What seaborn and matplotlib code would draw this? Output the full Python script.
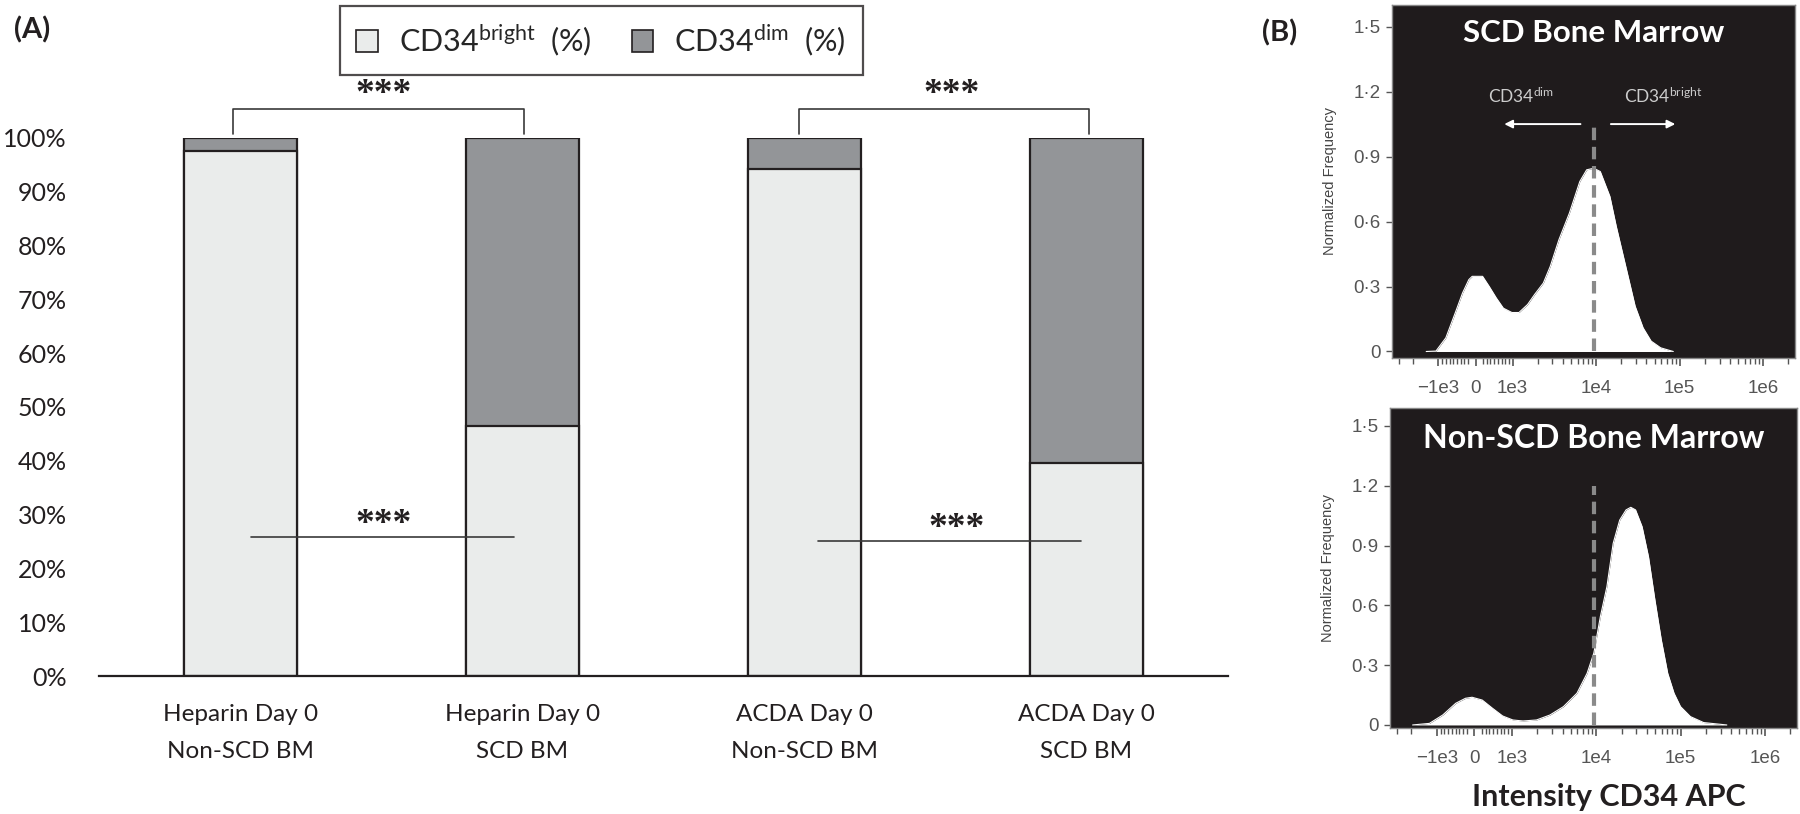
import numpy as np
import pandas as pd
import matplotlib
matplotlib.use('Agg')
import matplotlib.pyplot as plt
import seaborn as sns
from matplotlib.patches import Patch
from matplotlib.ticker import FixedLocator, FixedFormatter, SymmetricalLogLocator, NullFormatter

# ---- panel A data ----
groups = ['Heparin Day 0\nNon-SCD BM', 'Heparin Day 0\nSCD BM',
          'ACDA Day 0\nNon-SCD BM', 'ACDA Day 0\nSCD BM']
bright_pct = [97.6, 46.5, 94.2, 39.6]
dim_pct = [2.4, 53.5, 5.8, 60.4]
pct_ticks = [0, 10, 20, 30, 40, 50, 60, 70, 80, 90, 100]
pct_labels = ['0%', '10%', '20%', '30%', '40%', '50%', '60%', '70%', '80%', '90%', '100%']

# ---- panel B data (histogram outlines) ----
scd_x = [-2230, -1400, -1070, -800, -530, -350, -180, -90, 190, 370, 560, 750, 980,
         1190, 1510, 1830, 2330, 2820, 3580, 4780, 6370, 7700, 9350, 11200, 14600,
         17400, 22600, 29300, 36500, 45500, 59200, 83800, 120000, 363000]
scd_y = [0, 0, 0.002, 0.063, 0.186, 0.27, 0.332, 0.347, 0.347, 0.30, 0.247, 0.20, 0.18,
         0.18, 0.217, 0.263, 0.316, 0.393, 0.516, 0.639, 0.785, 0.839, 0.846, 0.831, 0.716,
         0.578, 0.393, 0.209, 0.109, 0.048, 0.017, 0.0, 0, 0]
nonscd_x = [-1940, -1225, -843, -496, -235, -61, 209, 482, 755, 1028, 1355, 1960, 2830,
            4090, 5910, 7800, 9370, 11200, 13400, 15900, 19000, 22600, 25700, 29300,
            35000, 41700, 49700, 59200, 70500, 83800, 100000, 131000, 188000, 354000]
nonscd_y = [0, 0.008, 0.05, 0.109, 0.134, 0.139, 0.125, 0.084, 0.045, 0.025, 0.02, 0.025,
            0.05, 0.092, 0.159, 0.259, 0.36, 0.543, 0.694, 0.911, 1.028, 1.079, 1.092, 1.079,
            0.995, 0.844, 0.627, 0.426, 0.259, 0.159, 0.092, 0.042, 0.012, 0]
gate = 9300
freq_ticks = [0, 0.3, 0.6, 0.9, 1.2, 1.5]
freq_labels = ['0', '0·3', '0·6', '0·9', '1·2', '1·5']
int_ticks = [-1e3, 0, 1e3, 1e4, 1e5, 1e6]
int_labels = ['\u22121e3', '0', '1e3', '1e4', '1e5', '1e6']

c_bright = '#eaeceb'
c_dim = '#939598'
c_edge = '#231f20'

sns.set_style('white')
plt.rcParams['font.family'] = ['Lato', 'DejaVu Sans']
plt.rcParams['mathtext.fontset'] = 'custom'
plt.rcParams['mathtext.rm'] = 'Lato'
plt.rcParams['mathtext.it'] = 'Lato:italic'
plt.rcParams['mathtext.bf'] = 'Lato:bold'

fig = plt.figure(figsize=(18, 8.14), dpi=100)

# ================= panel A =================
ax = fig.add_axes([0.055, 0.1695, 0.627, 0.661])
df = pd.DataFrame({'group': groups, 'bright': bright_pct, 'dim': dim_pct})
df['total'] = df['bright'] + df['dim']
sns.barplot(data=df, x='group', y='total', color=c_dim, saturation=1, width=0.4,
            edgecolor=c_edge, linewidth=1.6, errorbar=None, ax=ax)
sns.barplot(data=df, x='group', y='bright', color=c_bright, saturation=1, width=0.4,
            edgecolor=c_edge, linewidth=1.6, errorbar=None, ax=ax)
ax.set_xlim(-0.5, 3.5)
ax.set_ylim(0, 100)
ax.set_yticks(pct_ticks)
ax.set_yticklabels(pct_labels, fontsize=18, color='#231f20')
ax.tick_params(axis='y', length=0, pad=23)
ax.set_xticks(range(len(groups)))
ax.set_xticklabels([])
ax.tick_params(axis='x', length=0)
for i, g in enumerate(groups):
    ax.annotate(g, xy=(i, 0), xycoords=('data', 'axes fraction'), xytext=(0, -20),
                textcoords='offset points', ha='center', va='top', fontsize=17.5,
                linespacing=1.95, color='#231f20')
ax.set_xlabel('')
ax.set_ylabel('')
for s in ['top', 'right', 'left']:
    ax.spines[s].set_visible(False)
ax.spines['bottom'].set_linewidth(1.6)
ax.spines['bottom'].set_color(c_edge)

# significance marks
for x0, x1, cx in [(-0.025, 1.007, 0.51), (1.98, 3.01, 2.52)]:
    ax.plot([x0, x0, x1, x1], [100.7, 105.4, 105.4, 100.7], color='#3a3a3a', lw=1.2, clip_on=False)
    ax.text(cx, 104.9, '***', ha='center', va='bottom', fontsize=27, fontweight='bold',
            family='Liberation Serif', color='#231f20', clip_on=False)
for x0, x1, y, cx in [(0.04, 0.97, 25.8, 0.51), (2.05, 2.98, 25.1, 2.54)]:
    ax.plot([x0, x1], [y, y], color='#3a3a3a', lw=1.2)
    ax.text(cx, y - 0.9, '***', ha='center', va='bottom', fontsize=27, fontweight='bold',
            family='Liberation Serif', color='#231f20')

handles = [Patch(facecolor=c_bright, edgecolor=c_edge, linewidth=1.2),
           Patch(facecolor=c_dim, edgecolor=c_edge, linewidth=1.2)]
leg = fig.legend(handles, ['CD34$^{\\mathrm{bright}}$  (%)', 'CD34$^{\\mathrm{dim}}$  (%)'],
                 loc='center', bbox_to_anchor=(0.334, 0.950), ncol=2, fontsize=22,
                 frameon=True, fancybox=False, handlelength=0.7, handleheight=0.7,
                 handletextpad=0.7, columnspacing=1.3, borderpad=0.55)
leg.get_frame().set_edgecolor(c_edge)
leg.get_frame().set_linewidth(1.6)

fig.text(0.008, 0.963, '(A)', fontsize=21, fontweight='bold', color='#231f20', va='center')
fig.text(0.701, 0.960, '(B)', fontsize=21, fontweight='bold', color='#231f20', va='center')


# ================= panel B =================
def flow_panel(rect, xs, ys, title, ylim, gate_top, arrows):
    bx = fig.add_axes(rect)
    bx.set_facecolor('#1f1b1c')
    bx.set_xscale('symlog', linthresh=1000, linscale=0.4)
    bx.fill_between(xs, 0, ys, color='white', lw=0)
    pos = [i for i, v in enumerate(ys) if v > 0]
    sns.lineplot(x=xs[pos[0] - 1:pos[-1] + 2], y=ys[pos[0] - 1:pos[-1] + 2],
                 color='white', lw=0.8, ax=bx, sort=False)
    bx.plot([gate, gate], [0, gate_top], color='#8a8a8a', lw=3, ls=(0, (3, 1.6)))
    bx.set_xlim(-3600, 2.4e6)
    bx.set_ylim(*ylim)
    bx.xaxis.set_major_locator(FixedLocator(int_ticks))
    bx.xaxis.set_major_formatter(FixedFormatter(int_labels))
    bx.xaxis.set_minor_locator(SymmetricalLogLocator(linthresh=1000, base=10, subs=np.arange(2, 10)))
    bx.xaxis.set_minor_formatter(NullFormatter())
    bx.yaxis.set_major_locator(FixedLocator(freq_ticks))
    bx.yaxis.set_major_formatter(FixedFormatter(freq_labels))
    bx.tick_params(axis='x', which='major', direction='out', length=6, width=1.2, color='#555555',
                   labelsize=13.5, labelcolor='#555555', pad=10, bottom=True)
    bx.tick_params(axis='x', which='minor', direction='out', length=4, width=1, color='#555555', bottom=True)
    bx.tick_params(axis='y', direction='out', length=4, width=1, color='#555555',
                   labelsize=13.5, labelcolor='#555555', pad=4, left=True)
    for s in bx.spines.values():
        s.set_color('#888888')
        s.set_linewidth(1)
    bx.set_ylabel('Normalized Frequency', fontsize=10.5, color='#444444',
                  family='Liberation Sans', labelpad=12)
    bx.set_xlabel('')
    bx.text(0.5, title[1], title[0], transform=bx.transAxes, ha='center', va='center',
            fontsize=title[2], fontweight='bold', color='white')
    for (x0, x1, y) in arrows:
        bx.annotate('', xy=(x1, y), xytext=(x0, y),
                    arrowprops=dict(arrowstyle='-|>', color='white', lw=1.4, mutation_scale=12))
    for t in bx.get_xticklabels() + bx.get_yticklabels():
        t.set_family('Liberation Sans')
    return bx


top = flow_panel([0.7733, 0.5602, 0.2239, 0.4337], scd_x, scd_y,
                 ('SCD Bone Marrow', 0.92, 22.5), (-0.03, 1.60), 1.05,
                 [(7000, 700, 1.05), (13900, 95700, 1.05)])
top.text(1250, 1.18, 'CD34$^{\\mathrm{dim}}$', ha='center', va='center', fontsize=12.5, color='#cccccc')
top.text(64500, 1.18, 'CD34$^{\\mathrm{bright}}$', ha='center', va='center', fontsize=12.5, color='#cccccc')

bottom = flow_panel([0.7722, 0.1057, 0.2261, 0.393], nonscd_x, nonscd_y,
                    ('Non-SCD Bone Marrow', 0.906, 23), (-0.015, 1.59), 1.2, [])

fig.text(0.894, 0.021, 'Intensity CD34 APC', ha='center', va='center', fontsize=22,
         fontweight='bold', color='#231f20')

fig.savefig('out.png', dpi=100)
